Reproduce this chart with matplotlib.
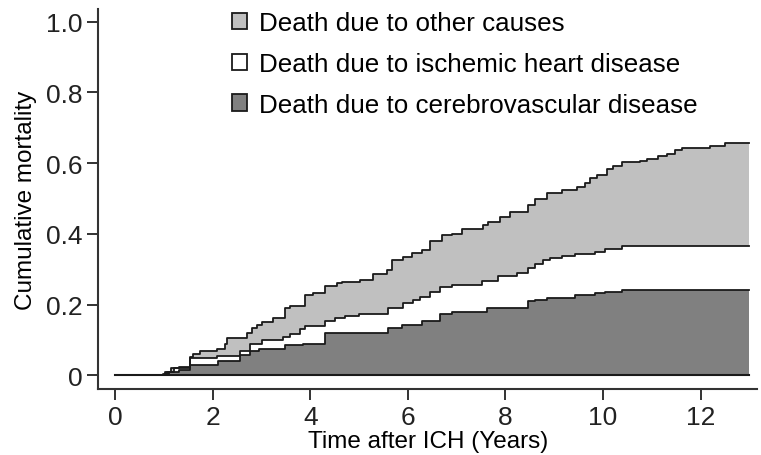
import matplotlib
matplotlib.use("Agg")
import matplotlib.pyplot as plt
from matplotlib.patches import Patch

plt.rcParams['font.family'] = ['Liberation Sans', 'DejaVu Sans']

# cumulative incidence, stacked: cerebrovascular, + ischemic heart, + other causes
t_cere = [0, 0.98, 1.10, 1.30, 1.54, 2.11, 2.56, 2.77, 2.95, 3.48, 3.85, 4.30,
          5.59, 5.87, 6.28, 6.66, 6.90, 7.62, 8.46, 8.61, 8.85, 9.00, 9.43,
          9.84, 10.04, 10.39, 13.0]
v_cere = [0, 0.005, 0.010, 0.015, 0.030, 0.040, 0.057, 0.069, 0.076, 0.086, 0.090, 0.119,
          0.133, 0.142, 0.154, 0.173, 0.178, 0.190, 0.210, 0.213, 0.218, 0.220, 0.227,
          0.232, 0.235, 0.242, 0.242]

t_ihd = [0, 1.07, 1.20, 1.54, 2.09, 2.56, 2.77, 3.00, 3.44, 3.59, 3.79, 3.89,
         4.30, 4.51, 4.71, 5.00, 5.59, 5.90, 6.11, 6.25, 6.45, 6.66, 6.90, 7.52,
         7.85, 8.24, 8.46, 8.61, 8.77, 8.91, 9.16, 9.43, 9.84, 10.04, 10.39, 13.0]
v_ihd = [0, 0.010, 0.020, 0.048, 0.055, 0.070, 0.090, 0.100, 0.110, 0.118, 0.130, 0.140,
         0.155, 0.163, 0.168, 0.173, 0.190, 0.204, 0.213, 0.223, 0.237, 0.249, 0.256, 0.267,
         0.280, 0.289, 0.303, 0.314, 0.327, 0.332, 0.338, 0.344, 0.350, 0.357, 0.365, 0.365]

t_all = [0, 1.02, 1.15, 1.30, 1.54, 1.60, 1.74, 2.09, 2.25, 2.30, 2.70, 2.81,
         2.90, 3.01, 3.24, 3.48, 3.59, 3.89, 4.06, 4.30, 4.55, 4.65, 5.02, 5.29,
         5.57, 5.68, 5.90, 6.09, 6.29, 6.45, 6.70, 6.90, 7.11, 7.54, 7.64, 7.89,
         8.09, 8.46, 8.61, 8.85, 9.16, 9.47, 9.63, 9.73, 9.88, 10.08, 10.20, 10.39,
         10.76, 10.90, 11.13, 11.31, 11.48, 11.62, 12.19, 12.50, 13.0]
v_all = [0, 0.010, 0.020, 0.025, 0.053, 0.062, 0.068, 0.076, 0.090, 0.107, 0.120, 0.135,
         0.142, 0.150, 0.161, 0.190, 0.197, 0.227, 0.232, 0.252, 0.260, 0.265, 0.270, 0.286,
         0.298, 0.327, 0.336, 0.345, 0.355, 0.379, 0.397, 0.400, 0.414, 0.426, 0.435, 0.447,
         0.462, 0.482, 0.500, 0.516, 0.525, 0.534, 0.545, 0.558, 0.567, 0.583, 0.591, 0.603,
         0.607, 0.613, 0.620, 0.626, 0.638, 0.643, 0.650, 0.657, 0.657]

labels = ["Death due to other causes",
          "Death due to ischemic heart disease",
          "Death due to cerebrovascular disease"]
colors = ["#c0c0c0", "#ffffff", "#808080"]

fig = plt.figure(figsize=(7.61, 4.56), dpi=100)
ax = fig.add_axes([0.129, 0.145, 0.866, 0.833])

ax.fill_between(t_all, 0, v_all, step='post', color=colors[0], lw=0)
ax.fill_between(t_ihd, 0, v_ihd, step='post', color=colors[1], lw=0)
ax.fill_between(t_cere, 0, v_cere, step='post', color=colors[2], lw=0)
for t, v in [(t_all, v_all), (t_ihd, v_ihd), (t_cere, v_cere)]:
    ax.plot(t, v, drawstyle='steps-post', color='#1a1a1a', lw=1.3)
ax.plot([0, 13.0], [0, 0], color='#1a1a1a', lw=1.5)

ax.set_xlim(-0.35, 13.16)
ax.set_ylim(-0.038, 1.036)
ax.set_xticks(range(0, 13, 2))
ax.set_yticks([0, 0.2, 0.4, 0.6, 0.8, 1.0])
ax.set_yticklabels(["0", "0.2", "0.4", "0.6", "0.8", "1.0"])
ax.tick_params(direction='out', length=8, width=1.3, labelsize=19, colors='#222222')
for s in ['top', 'right']:
    ax.spines[s].set_visible(False)
for s in ['left', 'bottom']:
    ax.spines[s].set_linewidth(1.5)
    ax.spines[s].set_color('#333333')

ax.set_xlabel("Time after ICH (Years)", fontsize=17.5, labelpad=1)
ax.set_ylabel("Cumulative mortality", fontsize=17.5, labelpad=6)

handles = [Patch(facecolor=c, edgecolor='#1a1a1a', lw=1.3) for c in colors]
ax.legend(handles, labels, loc='upper left', bbox_to_anchor=(0.187, 1.022),
          frameon=False, fontsize=18.7, handlelength=0.6, handleheight=0.6,
          handletextpad=0.46, labelspacing=0.65, borderaxespad=0)

fig.savefig("out.png", dpi=100)
